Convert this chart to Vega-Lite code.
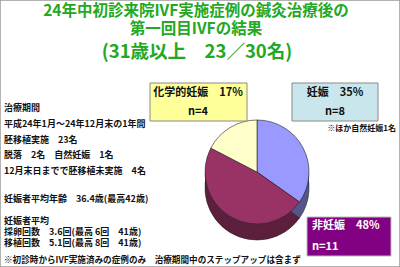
{
  "$schema": "https://vega.github.io/schema/vega-lite/v6.json",
  "width": 400,
  "height": 267,
  "autosize": {"type": "fit", "contains": "padding"},
  "padding": 0,
  "background": "white",
  "view": {"stroke": "#9a9a9a", "strokeWidth": 1.5},
  "config": {"font": "Noto Sans CJK JP"},
  "data": {"values": [
    {"category": "妊娠", "n": 8, "pct": 35, "k": 1},
    {"category": "非妊娠", "n": 11, "pct": 48, "k": 2},
    {"category": "化学的妊娠", "n": 4, "pct": 17, "k": 3}
  ]},
  "resolve": {"scale": {"color": "independent"}},
  "layer": [
    {
      "data": {"values": [{}]},
      "mark": {"type": "rect", "color": "#5c1f3d"},
      "encoding": {
        "x": {"datum": 205, "type": "quantitative", "scale": {"domain": [0, 400], "nice": false, "zero": false}, "axis": null},
        "x2": {"datum": 300},
        "y": {"datum": 172, "type": "quantitative", "scale": {"domain": [0, 267], "nice": false, "zero": false, "reverse": true}, "axis": null},
        "y2": {"datum": 188}
      }
    },
    {
      "data": {"values": [{}]},
      "mark": {"type": "rect", "color": "#55558a"},
      "encoding": {
        "x": {"datum": 300, "type": "quantitative", "scale": {"domain": [0, 400], "nice": false, "zero": false}, "axis": null},
        "x2": {"datum": 309},
        "y": {"datum": 172, "type": "quantitative", "scale": {"domain": [0, 267], "nice": false, "zero": false, "reverse": true}, "axis": null},
        "y2": {"datum": 188}
      }
    },
    {
      "mark": {"type": "arc", "outerRadius": 52, "stroke": "#222222", "strokeWidth": 0.6},
      "encoding": {
        "x": {"datum": 257, "type": "quantitative", "scale": {"domain": [0, 400], "nice": false, "zero": false}, "axis": null},
        "y": {"datum": 188, "type": "quantitative", "scale": {"domain": [0, 267], "nice": false, "zero": false, "reverse": true}, "axis": null},
        "theta": {"field": "n", "type": "quantitative", "stack": true},
        "order": {"field": "k", "type": "quantitative"},
        "color": {"field": "category", "type": "nominal", "legend": null,
          "scale": {"domain": ["妊娠", "非妊娠", "化学的妊娠"], "range": ["#55558a", "#5c1f3d", "#9a9a7a"]}}
      }
    },
    {
      "mark": {"type": "arc", "outerRadius": 52, "stroke": "#222222", "strokeWidth": 0.6},
      "encoding": {
        "x": {"datum": 257, "type": "quantitative", "scale": {"domain": [0, 400], "nice": false, "zero": false}, "axis": null},
        "y": {"datum": 172, "type": "quantitative", "scale": {"domain": [0, 267], "nice": false, "zero": false, "reverse": true}, "axis": null},
        "theta": {"field": "n", "type": "quantitative", "stack": true},
        "order": {"field": "k", "type": "quantitative"},
        "fill": {"field": "category", "type": "nominal", "legend": null,
          "scale": {"domain": ["妊娠", "非妊娠", "化学的妊娠"], "range": ["#9999ff", "#993366", "#ffffcc"]}}
      }
    },
    {
      "data": {"values": [{}]},
      "mark": {"type": "rect", "fill": "#ffff99", "stroke": "#8a8a8a", "strokeWidth": 1},
      "encoding": {
        "x": {"datum": 150, "type": "quantitative", "scale": {"domain": [0, 400], "nice": false, "zero": false}, "axis": null},
        "x2": {"datum": 247},
        "y": {"datum": 83, "type": "quantitative", "scale": {"domain": [0, 267], "nice": false, "zero": false, "reverse": true}, "axis": null},
        "y2": {"datum": 121}
      }
    },
    {
      "data": {"values": [{}]},
      "mark": {"type": "rect", "fill": "#c8e6ec", "stroke": "#8a8a8a", "strokeWidth": 1},
      "encoding": {
        "x": {"datum": 292, "type": "quantitative", "scale": {"domain": [0, 400], "nice": false, "zero": false}, "axis": null},
        "x2": {"datum": 378},
        "y": {"datum": 83, "type": "quantitative", "scale": {"domain": [0, 267], "nice": false, "zero": false, "reverse": true}, "axis": null},
        "y2": {"datum": 121}
      }
    },
    {
      "data": {"values": [{}]},
      "mark": {"type": "rect", "fill": "#820082", "stroke": "#bbbbbb", "strokeWidth": 1},
      "encoding": {
        "x": {"datum": 307, "type": "quantitative", "scale": {"domain": [0, 400], "nice": false, "zero": false}, "axis": null},
        "x2": {"datum": 391},
        "y": {"datum": 217, "type": "quantitative", "scale": {"domain": [0, 267], "nice": false, "zero": false, "reverse": true}, "axis": null},
        "y2": {"datum": 256}
      }
    },
    {
      "data": {"values": [{}]},
      "mark": {"type": "text", "text": "化学的妊娠　17%", "fontSize": 11, "fontWeight": "bold", "align": "center", "baseline": "middle", "color": "#111111"},
      "encoding": {
        "x": {"datum": 198, "type": "quantitative", "scale": {"domain": [0, 400], "nice": false, "zero": false}, "axis": null},
        "y": {"datum": 93, "type": "quantitative", "scale": {"domain": [0, 267], "nice": false, "zero": false, "reverse": true}, "axis": null}
      }
    },
    {
      "data": {"values": [{}]},
      "mark": {"type": "text", "text": "n=4", "fontSize": 11, "fontWeight": "bold", "align": "center", "baseline": "middle", "color": "#111111"},
      "encoding": {
        "x": {"datum": 198, "type": "quantitative", "scale": {"domain": [0, 400], "nice": false, "zero": false}, "axis": null},
        "y": {"datum": 112, "type": "quantitative", "scale": {"domain": [0, 267], "nice": false, "zero": false, "reverse": true}, "axis": null}
      }
    },
    {
      "data": {"values": [{}]},
      "mark": {"type": "text", "text": "妊娠　35%", "fontSize": 11, "fontWeight": "bold", "align": "center", "baseline": "middle", "color": "#111111"},
      "encoding": {
        "x": {"datum": 335, "type": "quantitative", "scale": {"domain": [0, 400], "nice": false, "zero": false}, "axis": null},
        "y": {"datum": 93, "type": "quantitative", "scale": {"domain": [0, 267], "nice": false, "zero": false, "reverse": true}, "axis": null}
      }
    },
    {
      "data": {"values": [{}]},
      "mark": {"type": "text", "text": "n=8", "fontSize": 11, "fontWeight": "bold", "align": "center", "baseline": "middle", "color": "#111111"},
      "encoding": {
        "x": {"datum": 335, "type": "quantitative", "scale": {"domain": [0, 400], "nice": false, "zero": false}, "axis": null},
        "y": {"datum": 112, "type": "quantitative", "scale": {"domain": [0, 267], "nice": false, "zero": false, "reverse": true}, "axis": null}
      }
    },
    {
      "data": {"values": [{}]},
      "mark": {"type": "text", "text": "※ほか自然妊娠1名", "fontSize": 8, "fontWeight": "bold", "align": "right", "baseline": "middle", "color": "#111111"},
      "encoding": {
        "x": {"datum": 396, "type": "quantitative", "scale": {"domain": [0, 400], "nice": false, "zero": false}, "axis": null},
        "y": {"datum": 129, "type": "quantitative", "scale": {"domain": [0, 267], "nice": false, "zero": false, "reverse": true}, "axis": null}
      }
    },
    {
      "data": {"values": [{}]},
      "mark": {"type": "text", "text": "非妊娠　48%", "fontSize": 11, "fontWeight": "bold", "align": "left", "baseline": "middle", "color": "white"},
      "encoding": {
        "x": {"datum": 312, "type": "quantitative", "scale": {"domain": [0, 400], "nice": false, "zero": false}, "axis": null},
        "y": {"datum": 226, "type": "quantitative", "scale": {"domain": [0, 267], "nice": false, "zero": false, "reverse": true}, "axis": null}
      }
    },
    {
      "data": {"values": [{}]},
      "mark": {"type": "text", "text": "n=11", "fontSize": 11, "fontWeight": "bold", "align": "left", "baseline": "middle", "color": "white"},
      "encoding": {
        "x": {"datum": 312, "type": "quantitative", "scale": {"domain": [0, 400], "nice": false, "zero": false}, "axis": null},
        "y": {"datum": 247, "type": "quantitative", "scale": {"domain": [0, 267], "nice": false, "zero": false, "reverse": true}, "axis": null}
      }
    },
    {
      "data": {"values": [{}]},
      "mark": {"type": "text", "text": ["24年中初診来院IVF実施症例の鍼灸治療後の", "第一回目IVFの結果"], "lineHeight": 18, "fontSize": 15.5, "fontWeight": "bold", "align": "center", "baseline": "top", "color": "#22a822"},
      "encoding": {
        "x": {"datum": 196, "type": "quantitative", "scale": {"domain": [0, 400], "nice": false, "zero": false}, "axis": null},
        "y": {"datum": 4, "type": "quantitative", "scale": {"domain": [0, 267], "nice": false, "zero": false, "reverse": true}, "axis": null}
      }
    },
    {
      "data": {"values": [{}]},
      "mark": {"type": "text", "text": "(31歳以上　23／30名)", "fontSize": 18.5, "fontWeight": "bold", "align": "center", "baseline": "middle", "color": "#22a822"},
      "encoding": {
        "x": {"datum": 197, "type": "quantitative", "scale": {"domain": [0, 400], "nice": false, "zero": false}, "axis": null},
        "y": {"datum": 52, "type": "quantitative", "scale": {"domain": [0, 267], "nice": false, "zero": false, "reverse": true}, "axis": null}
      }
    },
    {
      "data": {"values": [{}]},
      "mark": {"type": "text", "text": ["治療期間", "平成24年1月～24年12月末の1年間", "胚移植実施　23名", "脱落　2名　自然妊娠　1名", "12月末日までで胚移植未実施　4名"], "lineHeight": 15.8, "fontSize": 9, "fontWeight": "bold", "align": "left", "baseline": "top", "color": "#111111"},
      "encoding": {
        "x": {"datum": 4, "type": "quantitative", "scale": {"domain": [0, 400], "nice": false, "zero": false}, "axis": null},
        "y": {"datum": 104, "type": "quantitative", "scale": {"domain": [0, 267], "nice": false, "zero": false, "reverse": true}, "axis": null}
      }
    },
    {
      "data": {"values": [{}]},
      "mark": {"type": "text", "text": "妊娠者平均年齢　36.4歳(最高42歳)", "fontSize": 9, "fontWeight": "bold", "align": "left", "baseline": "middle", "color": "#111111"},
      "encoding": {
        "x": {"datum": 4, "type": "quantitative", "scale": {"domain": [0, 400], "nice": false, "zero": false}, "axis": null},
        "y": {"datum": 199, "type": "quantitative", "scale": {"domain": [0, 267], "nice": false, "zero": false, "reverse": true}, "axis": null}
      }
    },
    {
      "data": {"values": [{}]},
      "mark": {"type": "text", "text": ["妊娠者平均", "　 採卵回数　3.6回(最高 6回　41歳)", "　 移植回数　5.1回(最高 8回　41歳)"], "lineHeight": 11, "fontSize": 9, "fontWeight": "bold", "align": "left", "baseline": "top", "color": "#111111"},
      "encoding": {
        "x": {"datum": 4, "type": "quantitative", "scale": {"domain": [0, 400], "nice": false, "zero": false}, "axis": null},
        "y": {"datum": 216.5, "type": "quantitative", "scale": {"domain": [0, 267], "nice": false, "zero": false, "reverse": true}, "axis": null}
      }
    },
    {
      "data": {"values": [{}]},
      "mark": {"type": "text", "text": "※初診時からIVF実施済みの症例のみ　治療期間中のステップアップは含まず", "fontSize": 8.6, "fontWeight": "bold", "align": "left", "baseline": "middle", "color": "#111111"},
      "encoding": {
        "x": {"datum": 4, "type": "quantitative", "scale": {"domain": [0, 400], "nice": false, "zero": false}, "axis": null},
        "y": {"datum": 260, "type": "quantitative", "scale": {"domain": [0, 267], "nice": false, "zero": false, "reverse": true}, "axis": null}
      }
    }
  ]
}
